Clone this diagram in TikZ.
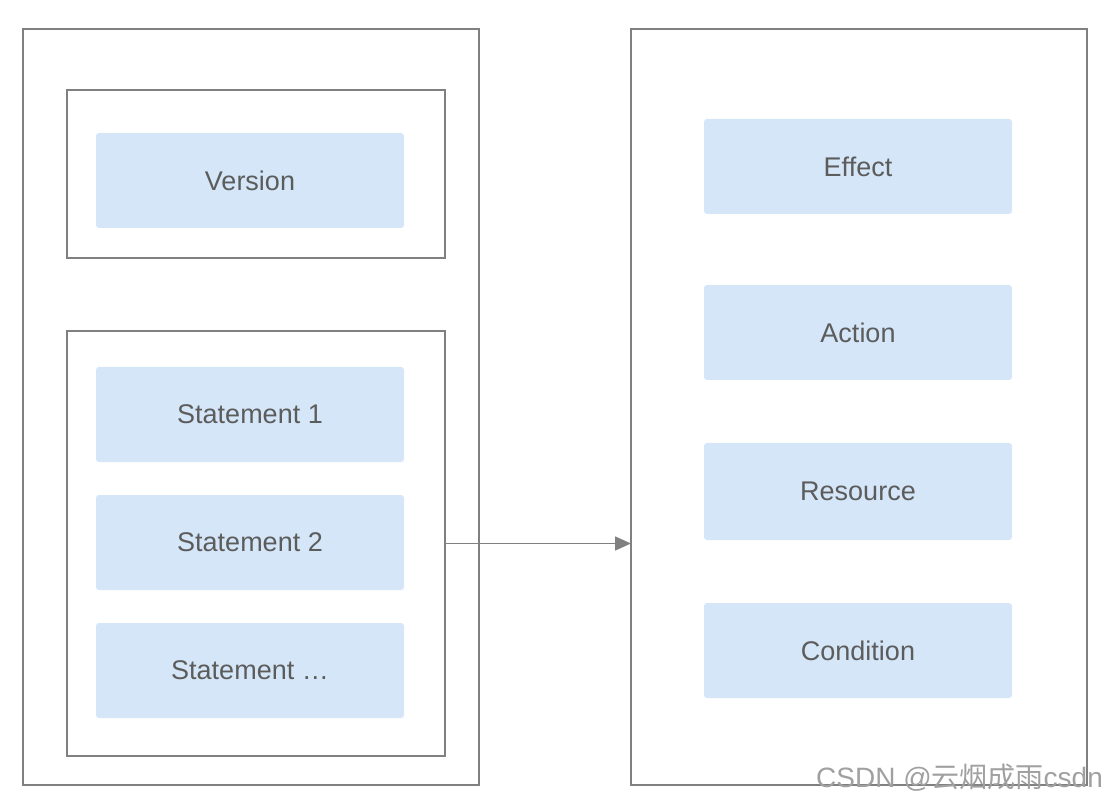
\documentclass[tikz,border=0pt]{standalone}
\usepackage{fontspec}
\setmainfont{Liberation Sans}
\newfontfamily\cjk{Noto Sans CJK SC}
\usetikzlibrary{arrows.meta}
\definecolor{linegray}{HTML}{808080}
\definecolor{boxblue}{HTML}{D4E6F7}
\definecolor{txtgray}{HTML}{5C5C5C}
\definecolor{wmgray}{HTML}{A0A0A0}
\tikzset{
  frame/.style={draw=linegray, line width=1.5pt},
  item/.style={fill=boxblue, rounded corners=3pt, text=txtgray, font=\fontsize{27}{30}\selectfont, text depth=0pt, minimum width=308pt},
  conn/.style={draw=linegray, line width=1.5pt, -{Triangle[length=16pt,width=14pt]}}
}
\begin{document}
\begin{tikzpicture}[x=1pt,y=-1pt]
\useasboundingbox (0,0) rectangle (1120,802);
% frames
\draw[frame] (23,29) rectangle (479,785);
\draw[frame] (631,29) rectangle (1087,785);
\node[frame, inner sep=0pt, minimum width=378pt, minimum height=168pt] (vc) at (256,174) {};
\node[frame, inner sep=0pt, minimum width=378pt, minimum height=425pt] (sc) at (256,543.5) {};
\coordinate (rw) at (631,407);
% left items
\node[item, minimum height=95pt] (ver) at (250,180.5) {Version};
\node[item, minimum height=95pt] (s1) at (250,414.5) {Statement 1};
\node[item, minimum height=95pt] (s2) at (250,542.5) {Statement 2};
\node[item, minimum height=95pt] (s3) at (250,670.5) {Statement \dots};
% right items
\node[item, minimum height=95pt] (eff) at (858,166.5) {Effect};
\node[item, minimum height=95pt] (act) at (858,332.5) {Action};
\node[item, minimum height=97pt] (res) at (858,491.5) {Resource};
\node[item, minimum height=95pt] (con) at (858,650.5) {Condition};
% arrow
\draw[conn] (sc.east) -- (sc.east -| rw);
% watermark
\node[anchor=base west, inner sep=0pt, text=wmgray, font=\fontsize{28}{30}\selectfont] (wm) at (816,787) {CSDN @{\cjk 云烟成雨}csdn};
\end{tikzpicture}
\end{document}
